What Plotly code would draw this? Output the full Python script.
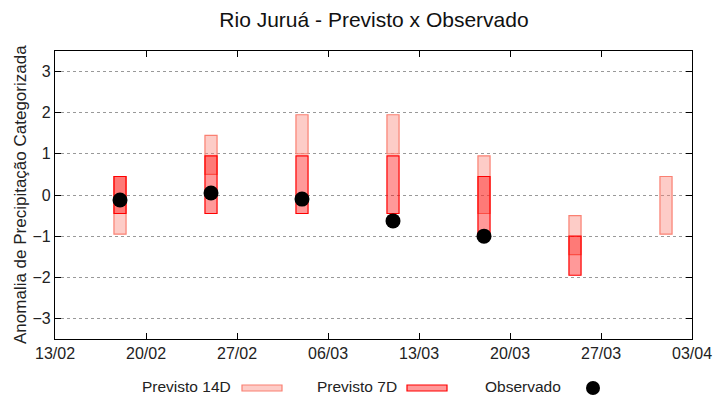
import plotly.graph_objects as go
import pandas as pd

# Data
dates = ["2023-02-18", "2023-02-25", "2023-03-04", "2023-03-11", "2023-03-18", "2023-03-25", "2023-04-01"]
p14_low = [-0.95, 0.5, 1.0, 1.0, -0.45, -1.45, -0.95]
p14_high = [0.45, 1.45, 1.95, 1.95, 0.95, -0.5, 0.45]
p7_dates = ["2023-02-18", "2023-02-25", "2023-03-04", "2023-03-11", "2023-03-18", "2023-03-25"]
p7_low = [-0.45, -0.45, -0.45, -0.45, -0.95, -1.95]
p7_high = [0.45, 0.95, 0.95, 0.95, 0.45, -1.0]
obs_dates = ["2023-02-18", "2023-02-25", "2023-03-04", "2023-03-11", "2023-03-18"]
obs_vals = [-0.12, 0.05, -0.1, -0.63, -1.0]
tick_dates = ["2023-02-13", "2023-02-20", "2023-02-27", "2023-03-06", "2023-03-13", "2023-03-20", "2023-03-27", "2023-04-03"]
tick_labels = ["13/02", "20/02", "27/02", "06/03", "13/03", "20/03", "27/03", "03/04"]

FONT = "Liberation Sans, Arial, sans-serif"
W, H = 720, 400
ML, MR, MT, MB = 55, 28, 51, 61
DAY = 86400000
bw = 0.93 * DAY

c14_fill = "rgba(250,128,114,0.4)"
c14_line = "rgb(250,128,114)"
c7_fill = "rgba(255,0,0,0.4)"
c7_line = "rgb(255,0,0)"

fig = go.Figure()
fig.add_trace(go.Bar(
    x=pd.to_datetime(dates), base=p14_low,
    y=[h - l for h, l in zip(p14_high, p14_low)],
    width=[bw] * len(dates),
    marker=dict(color=c14_fill, line=dict(color=c14_line, width=1.2)),
    name="Previsto 14D", showlegend=False,
))
fig.add_trace(go.Bar(
    x=pd.to_datetime(p7_dates), base=p7_low,
    y=[h - l for h, l in zip(p7_high, p7_low)],
    width=[bw] * len(p7_dates),
    marker=dict(color=c7_fill, line=dict(color=c7_line, width=1.2)),
    name="Previsto 7D", showlegend=False,
))
fig.add_trace(go.Scatter(
    x=pd.to_datetime(obs_dates), y=obs_vals, mode="markers",
    marker=dict(color="black", size=15),
    name="Observado", showlegend=False,
))

def px_x(p):
    return (p - ML) / (W - ML - MR)

def px_y(p):
    return 1 - (p - MT) / (H - MT - MB)

# Custom legend (gnuplot style: text, then sample)
ly = 386
leg_items = [("Previsto 14D", 233, 242, 282, c14_fill, c14_line),
             ("Previsto 7D", 399, 407, 447, c7_fill, c7_line)]
for text, tx, x0, x1, fc, lc in leg_items:
    fig.add_annotation(x=px_x(tx), y=px_y(ly), xref="paper", yref="paper",
                       text=text, showarrow=False, xanchor="right", yanchor="middle",
                       font=dict(family=FONT, size=15.5, color="#222"))
    fig.add_shape(type="rect", xref="paper", yref="paper",
                  x0=px_x(x0), x1=px_x(x1), y0=px_y(ly + 5), y1=px_y(ly - 1),
                  fillcolor=fc, line=dict(color=lc, width=1.2))
fig.add_annotation(x=px_x(563), y=px_y(ly), xref="paper", yref="paper",
                   text="Observado", showarrow=False, xanchor="right", yanchor="middle",
                   font=dict(family=FONT, size=15.5, color="#222"))
fig.add_shape(type="circle", xref="paper", yref="paper",
              x0=px_x(586), x1=px_x(600), y0=px_y(395), y1=px_y(381),
              fillcolor="black", line=dict(color="black", width=0))

# Y-axis title
fig.add_annotation(x=px_x(20), y=0.5, xref="paper", yref="paper",
                   text="Anomalia de Precipitação Categorizada", textangle=-90,
                   showarrow=False, xanchor="center", yanchor="middle",
                   font=dict(family=FONT, size=17, color="#222"))

fig.update_layout(
    width=W, height=H,
    margin=dict(l=ML, r=MR, t=MT, b=MB, autoexpand=False),
    paper_bgcolor="white", plot_bgcolor="white",
    barmode="overlay",
    font=dict(family=FONT, size=16, color="#222"),
    title=dict(text="Rio Juruá - Previsto x Observado", x=(374) / W, xanchor="center",
               y=1 - 20 / H, yanchor="middle", font=dict(family=FONT, size=21, color="#111")),
)
fig.update_xaxes(
    type="date", range=[pd.Timestamp("2023-02-13"), pd.Timestamp("2023-04-03")],
    tickvals=pd.to_datetime(tick_dates), ticktext=tick_labels,
    showgrid=False, zeroline=False,
    showline=True, linecolor="black", linewidth=1.2, mirror="ticks",
    ticks="inside", ticklen=6, tickcolor="black",
    tickfont=dict(family=FONT, size=16, color="#222"),
    automargin=False,
)
fig.update_yaxes(
    range=[-3.5, 3.5], tickvals=[-3, -2, -1, 0, 1, 2, 3],
    showgrid=True, gridcolor="#999", griddash="dot", gridwidth=1,
    zeroline=False,
    showline=True, linecolor="black", linewidth=1.2, mirror="ticks",
    ticks="inside", ticklen=6, tickcolor="black",
    tickfont=dict(family=FONT, size=16, color="#222"),
    automargin=False,
)

fig.write_html("out.html", config={"displayModeBar": False},
               post_script="document.body.style.margin='0';document.body.style.overflow='hidden';")
